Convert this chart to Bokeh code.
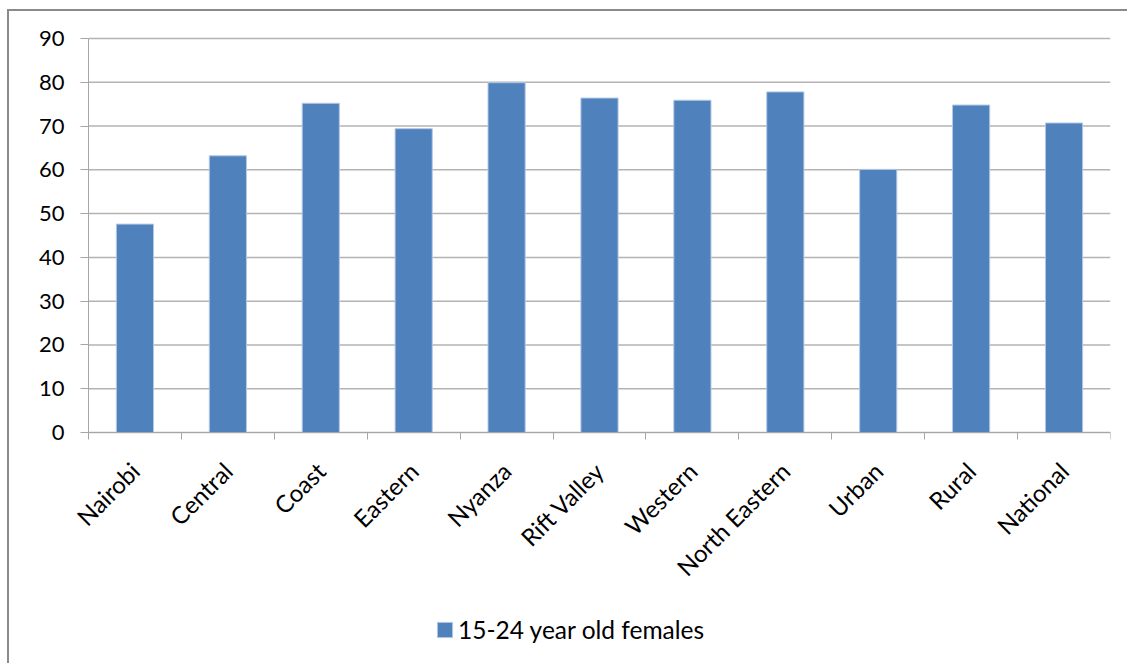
from bokeh.plotting import figure
from bokeh.models import FixedTicker, Legend, LegendItem, Range1d, ColumnDataSource
from bokeh.embed import file_html
from bokeh.resources import INLINE

categories = ["Nairobi", "Central", "Coast", "Eastern", "Nyanza", "Rift Valley",
              "Western", "North Eastern", "Urban", "Rural", "National"]
values = [47.6, 63.2, 75.2, 69.4, 79.9, 76.4, 75.9, 77.8, 60.1, 74.8, 70.7]
series_name = "15-24 year old females"
y_ticks = [0, 10, 20, 30, 40, 50, 60, 70, 80, 90]

FONT = "Lato"
GRID = "#b3b3b3"
AXIS = "#a6a6a6"
n = len(categories)
centers = [i + 0.5 for i in range(n)]
bounds = list(range(n + 1))

# layout (pixels): the frame is extended around the plot area so that the
# axes (drawn at fixed locations) and the legend are not clipped
W, H = 1120, 654
B_TOP, B_BOTTOM, B_LEFT, B_RIGHT = 9, 5, 21, 19
PAD_TOP = 18             # frame space above the value 90
PAD_LEFT = 58            # frame space left of the first category
PLOT_H = 394             # pixel height of the value range 0..90
PLOT_W = 1022            # pixel width of the categories
frame_h = H - B_TOP - B_BOTTOM
y_max = max(y_ticks)
per_px = y_max / PLOT_H
y_top = y_max + PAD_TOP * per_px
y_bottom = -(frame_h - PLOT_H - PAD_TOP) * per_px
x_left = -n * PAD_LEFT / PLOT_W

src = ColumnDataSource(dict(x=centers, top=values, cat=categories))
grid_src = ColumnDataSource(dict(y=y_ticks, x0=[0] * len(y_ticks), x1=[n] * len(y_ticks)))

p = figure(width=W, height=H, output_backend="svg", toolbar_location=None,
           x_range=Range1d(x_left, n), y_range=Range1d(y_bottom, y_top),
           min_border_left=B_LEFT, min_border_right=B_RIGHT, min_border_top=B_TOP,
           min_border_bottom=B_BOTTOM)
p.styles = {"border-top": "2px solid #8a8a8a", "border-left": "2px solid #8a8a8a",
            "margin-left": "7px", "margin-top": "9px"}
p.outline_line_color = None
p.xgrid.grid_line_color = None
p.ygrid.grid_line_color = None

# horizontal gridlines over the plot area only
p.segment(x0="x0", x1="x1", y0="y", y1="y", source=grid_src,
          line_color=GRID, line_width=1.5, level="underlay")

r = p.vbar(x="x", top="top", width=0.4, bottom=0, source=src,
           fill_color="#4F81BD", line_color="#b4c8e4", line_width=1)

# y axis, drawn at category position 0
p.yaxis.fixed_location = 0
p.yaxis.bounds = (0, y_max)
p.yaxis.ticker = FixedTicker(ticks=y_ticks)
p.yaxis.axis_line_color = AXIS
p.yaxis.major_tick_line_color = AXIS
p.yaxis.major_tick_out = 8
p.yaxis.major_tick_in = 0
p.yaxis.minor_tick_line_color = None
p.yaxis.major_label_text_font = FONT
p.yaxis.major_label_text_font_size = "22px"
p.yaxis.major_label_text_color = "#000000"
p.yaxis.major_label_standoff = 16

# x axis, drawn at value 0
p.xaxis.fixed_location = 0
p.xaxis.bounds = (0, n)
p.xaxis.ticker = FixedTicker(ticks=centers, minor_ticks=bounds)
p.xaxis.major_label_overrides = {c: name for c, name in zip(centers, categories)}
p.xaxis.axis_line_color = AXIS
p.xaxis.major_tick_line_color = None
p.xaxis.major_tick_out = 0
p.xaxis.major_tick_in = 0
p.xaxis.minor_tick_line_color = AXIS
p.xaxis.minor_tick_out = 7
p.xaxis.minor_tick_in = 0
p.xaxis.major_label_orientation = 0.785398
p.xaxis.major_label_text_font = FONT
p.xaxis.major_label_text_font_size = "24px"
p.xaxis.major_label_text_color = "#000000"
p.xaxis.major_label_standoff = 27

legend = Legend(items=[LegendItem(label=series_name, renderers=[r])],
                location=(405, 16), orientation="horizontal",
                label_text_font=FONT, label_text_font_size="24.5px",
                label_text_color="#000000", glyph_width=19, glyph_height=19,
                label_standoff=4, border_line_color=None, background_fill_alpha=0,
                padding=5, margin=0)
p.add_layout(legend, "center")

open("out.html", "w").write(file_html(p, INLINE))
